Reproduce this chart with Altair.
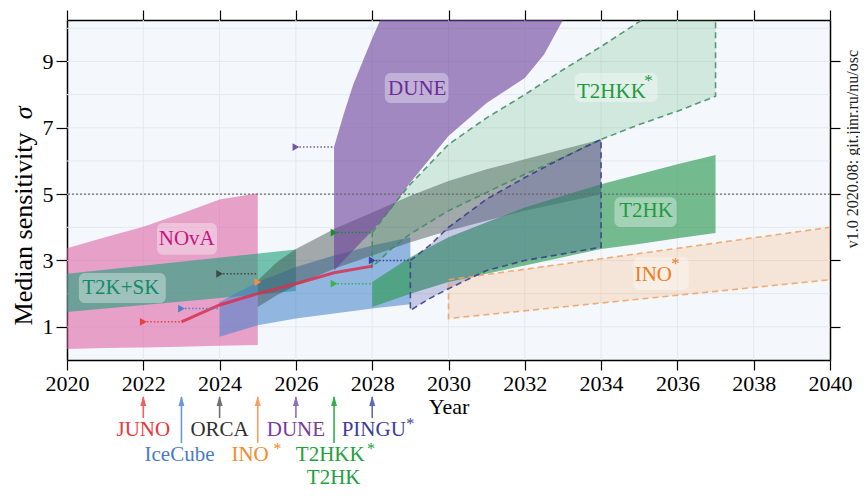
import altair as alt
import pandas as pd

FONT = "Liberation Serif"

# ---------------- data ----------------
nova_x = [2020, 2021, 2022, 2023, 2024, 2025]
nova_lo = [0.33, 0.36, 0.38, 0.40, 0.43, 0.45]
nova_hi = [3.37, 3.70, 4.02, 4.42, 4.84, 5.03]

t2ksk_x = [2020, 2026]
t2ksk_lo = [1.45, 2.08]
t2ksk_hi = [2.60, 3.33]

icecube_x = [2024, 2025, 2026, 2027, 2028, 2029]
icecube_lo = [0.70, 1.05, 1.25, 1.40, 1.55, 1.68]
icecube_hi = [1.75, 2.35, 2.80, 3.15, 3.45, 3.70]

orca_x = [2025, 2025.5, 2026, 2027, 2028, 2029, 2030, 2031, 2032, 2033, 2034]
orca_lo = [1.60, 1.95, 2.25, 2.75, 3.15, 3.55, 3.90, 4.20, 4.50, 4.75, 5.00]
orca_hi = [2.40, 2.95, 3.35, 3.95, 4.45, 4.95, 5.40, 5.75, 6.05, 6.35, 6.65]

ino_x = [2030, 2040]
ino_lo = [1.25, 2.42]
ino_hi = [2.42, 4.00]

dune_x = [2027, 2027.25, 2027.5, 2027.75, 2028, 2028.5, 2029, 2029.5, 2030, 2031, 2032, 2032.5, 2033, 2033.5]
dune_lo = [2.70, 3.00, 3.30, 3.60, 3.90, 4.55, 5.35, 6.05, 6.75, 7.75, 8.50, 9.20, 10.25, 11.0]
dune_hi = [6.42, 7.40, 8.30, 9.00, 9.70, 11.0, 11.0, 11.0, 11.0, 11.0, 11.0, 11.0, 11.0, 11.0]

t2hkk_x = [2028, 2028.5, 2029, 2029.5, 2030, 2031, 2032, 2033, 2034, 2035, 2036, 2037]
t2hkk_lo = [2.80, 3.35, 3.80, 4.15, 4.50, 5.05, 5.60, 6.10, 6.65, 7.10, 7.50, 7.95]
t2hkk_hi = [3.84, 4.60, 5.30, 5.90, 6.50, 7.30, 8.00, 8.75, 9.45, 10.20, 10.90, 11.60]

t2hk_x = [2028, 2029, 2030, 2031, 2032, 2033, 2034, 2035, 2036, 2037]
t2hk_lo = [1.60, 2.00, 2.35, 2.60, 2.85, 3.10, 3.35, 3.50, 3.67, 3.83]
t2hk_hi = [2.35, 3.10, 3.70, 4.15, 4.60, 4.95, 5.30, 5.60, 5.90, 6.18]

pingu_x = [2029, 2029.5, 2030, 2031, 2032, 2033, 2034]
pingu_lo = [1.50, 1.85, 2.15, 2.70, 3.00, 3.20, 3.40]
pingu_hi = [3.00, 3.45, 4.00, 4.85, 5.50, 6.10, 6.65]

juno_x = [2023, 2024, 2025, 2026, 2027, 2028]
juno_y = [1.15, 1.66, 2.00, 2.30, 2.63, 2.83]

exps = ["JUNO", "IceCube", "ORCA", "INO", "DUNE", "T2HKK", "T2HK", "PINGU"]
start_year = [2022, 2023, 2024, 2025, 2026, 2027, 2027, 2028]
marker_y = [1.15, 1.55, 2.60, 2.35, 6.42, 3.84, 2.30, 3.00]
dotted_end = [2023, 2024, 2025, 2025, 2027, 2028, 2028, 2029]

x_ticks = list(range(2020, 2041, 2))
y_ticks = [1, 3, 5, 7, 9]
grid_y = list(range(1, 11))
grid_x = list(range(2022, 2040, 2))
threshold = [5]

# in-plot band labels
band_text = ["NOvA", "T2K+SK", "DUNE", "T2HKK", "T2HK", "INO"]
band_text_x = [2023.14, 2021.41, 2029.18, 2034.27, 2035.18, 2035.37]
band_text_y = [3.66, 2.17, 8.18, 8.09, 4.48, 2.56]
box_x1 = [2022.36, 2020.31, 2028.33, 2033.31, 2034.35, 2034.85]
box_x2 = [2023.93, 2022.59, 2030.00, 2035.48, 2035.98, 2036.30]
box_y1 = [3.17, 1.72, 7.75, 7.78, 4.01, 2.11]
box_y2 = [4.13, 2.62, 8.65, 8.65, 4.91, 3.10]
band_ast_name = ["T2HKK", "INO"]
band_ast_x = [2035.24, 2035.95]
band_ast_y = [8.40, 2.88]

# annotation below the axis
arrow_year = [2022, 2023, 2024, 2025, 2026, 2027, 2028]
arrow_long = [False, True, False, True, False, True, False]
ann_text = ["JUNO", "ORCA", "DUNE", "PINGU", "IceCube", "INO", "T2HKK", "T2HK"]
ann_x = [2022.0, 2024.0, 2026.0, 2028.04, 2022.95, 2024.80, 2026.90, 2026.99]
ann_row = [1, 1, 1, 1, 2, 2, 2, 3]
ann_ast_name = ["PINGU", "INO", "T2HKK"]
ann_ast_x = [2029.0, 2025.52, 2027.97]
ann_ast_row = [1, 2, 2]

version_text = "v1.0 2020.08: git.jinr.ru/nu/osc"

# ---------------- styles ----------------
XS = alt.Scale(domain=[2020, 2040], nice=False, zero=False)
YS = alt.Scale(domain=[0, 10.25], nice=False, zero=False)

marker_colors = ["#e8403e", "#4f7fc4", "#3a4a46", "#f29040", "#7a55a6", "#1c8a3c", "#3cb44e", "#3b3ea0"]
arrow_colors = ["#f0605e", "#6a97d6", "#707070", "#f5a060", "#9070b8", "#2cb34a", "#6068b8"]
ann_colors = {"JUNO": "#e8383a", "ORCA": "#303030", "DUNE": "#7a3aa0", "PINGU": "#3c3ca0",
              "IceCube": "#4a7cc4", "INO": "#f58a2a", "T2HKK": "#22a03c", "T2HK": "#22a03c"}
band_text_colors = {"NOvA": "#c8147e", "T2K+SK": "#108a68", "DUNE": "#6a2c98",
                    "T2HKK": "#1e9a3c", "T2HK": "#1e9a3c", "INO": "#f07d1a"}
row_y = {1: -2.11, 2: -2.86, 3: -3.56}
row_ast_y = {1: -1.92, 2: -2.67}
ARROW_TOP = -1.115
ARROW_SHORT = -1.75
ARROW_LONG = -2.50


def X(f, **kw):
    return alt.X(f, type="quantitative", scale=XS, axis=None, **kw)


def Y(f, **kw):
    return alt.Y(f, type="quantitative", scale=YS, axis=None, **kw)


def band(xs, lo, hi, color, opacity, clip=False):
    df = pd.DataFrame({"x": xs, "lo": lo, "hi": hi})
    return alt.Chart(df).mark_area(color=color, opacity=opacity, clip=clip).encode(
        x=X("x"), y=Y("lo"), y2=alt.Y2("hi"))


def outline(xs, lo, hi, color, clip=False, opacity=0.85):
    px = list(xs) + list(xs)[::-1] + [xs[0]]
    py = list(hi) + list(lo)[::-1] + [hi[0]]
    df = pd.DataFrame({"x": px, "y": py, "i": list(range(len(px)))})
    return alt.Chart(df).mark_line(color=color, strokeDash=[6, 4], strokeWidth=1.6,
                                   opacity=opacity, clip=clip).encode(
        x=X("x"), y=Y("y"), order=alt.Order("i:Q"))


corner = pd.DataFrame({"x": [2020, 2040], "y": [0, 10]})

axes_main = alt.Chart(corner).mark_point(opacity=0).encode(
    x=alt.X("x", type="quantitative", scale=XS, axis=alt.Axis(
        values=x_ticks, format="d", orient="bottom", title="Year", labelFont=FONT, labelFontSize=22,
        labelColor="black", labelFlush=False, labelOverlap=False, labelPadding=3,
        tickSize=10, tickWidth=1.2, tickColor="black", domainColor="black", domainWidth=1.5,
        titleFont=FONT, titleFontSize=22, titleFontWeight="normal", titleColor="black",
        titlePadding=2, grid=False)),
    y=alt.Y("y", type="quantitative", scale=YS, axis=alt.Axis(
        values=y_ticks, format="d", orient="left", title=None, labelFont=FONT, labelFontSize=22,
        labelColor="black", labelFlush=False, labelOverlap=False, labelPadding=3,
        tickSize=11, tickWidth=1.2, tickColor="black", domainColor="black", domainWidth=1.5,
        grid=False)),
)
axes_other = alt.Chart(corner).mark_point(opacity=0).encode(
    x=alt.X("x", type="quantitative", scale=XS, axis=alt.Axis(
        values=x_ticks, orient="top", title=None, labels=False, tickSize=10, tickWidth=1.2,
        tickColor="black", domainColor="black", domainWidth=1.5, grid=False)),
    y=alt.Y("y", type="quantitative", scale=YS, axis=alt.Axis(
        values=y_ticks, orient="right", title=None, labels=False, tickSize=10, tickWidth=1.2,
        tickColor="black", domainColor="black", domainWidth=1.5, grid=False)),
)

grid_h = alt.Chart(pd.DataFrame({"y": grid_y})).mark_rule(color="#e3e9f0", strokeWidth=1).encode(
    y=Y("y"))
grid_v = alt.Chart(pd.DataFrame({"x": grid_x})).mark_rule(color="#e3e9f0", strokeWidth=1).encode(
    x=X("x"))

layers = [grid_h, grid_v]
layers.append(band(nova_x, nova_lo, nova_hi, "#dd5a9f", 0.55))
layers.append(band(t2ksk_x, t2ksk_lo, t2ksk_hi, "#1aa078", 0.6))
layers.append(band(icecube_x, icecube_lo, icecube_hi, "#3f7fc8", 0.55))
layers.append(band(orca_x, orca_lo, orca_hi, "#3d4a47", 0.45))
layers.append(band(ino_x, ino_lo, ino_hi, "#f59a4a", 0.2))
layers.append(band(dune_x, dune_lo, dune_hi, "#6a3d9a", 0.6, clip=True))
layers.append(band(t2hkk_x, t2hkk_lo, t2hkk_hi, "#34a05a", 0.18, clip=True))
layers.append(band(t2hk_x, t2hk_lo, t2hk_hi, "#2e9a55", 0.65))
layers.append(band(pingu_x, pingu_lo, pingu_hi, "#3a3f9c", 0.25))
layers.append(outline(ino_x, ino_lo, ino_hi, "#f0a060", clip=True))
layers.append(outline(t2hkk_x, t2hkk_lo, t2hkk_hi, "#3d8a60", clip=True))
layers.append(outline(pingu_x, pingu_lo, pingu_hi, "#353a8a"))

juno_line = alt.Chart(pd.DataFrame({"x": juno_x, "y": juno_y})).mark_line(
    color="#d8304f", strokeWidth=3, opacity=0.85).encode(x=X("x"), y=Y("y"))
layers.append(juno_line)

mk = pd.DataFrame({"exp": exps, "x": start_year, "y": marker_y, "x2": dotted_end})
color_enc = alt.Color("exp:N", scale=alt.Scale(domain=exps, range=marker_colors), legend=None)
dotted = alt.Chart(mk).mark_rule(strokeDash=[1.5, 2], strokeWidth=1.5).encode(
    x=X("x"), x2=alt.X2("x2"), y=Y("y"), color=color_enc)
markers = alt.Chart(mk).mark_point(shape="triangle-right", filled=True, size=60, opacity=1).encode(
    x=X("x"), y=Y("y"), color=color_enc)
layers += [dotted, markers]

thr = alt.Chart(pd.DataFrame({"y": threshold})).mark_rule(
    color="#6a6a6a", strokeDash=[2, 2], strokeWidth=1.2).encode(y=Y("y"))
layers.append(thr)

boxes = alt.Chart(pd.DataFrame({"x1": box_x1, "x2": box_x2, "y1": box_y1, "y2": box_y2})).mark_rect(
    color="white", opacity=0.35, cornerRadius=6).encode(
    x=X("x1"), x2=alt.X2("x2"), y=Y("y1"), y2=alt.Y2("y2"))
layers.append(boxes)

bt_color = alt.Color("t:N", scale=alt.Scale(domain=list(band_text_colors),
                                            range=list(band_text_colors.values())), legend=None)
bt = pd.DataFrame({"t": band_text, "x": band_text_x, "y": band_text_y})
layers.append(alt.Chart(bt).mark_text(font=FONT, fontSize=21, baseline="middle", align="center").encode(
    x=X("x"), y=Y("y"), text="t:N", color=bt_color))
ba = pd.DataFrame({"t": band_ast_name, "x": band_ast_x, "y": band_ast_y})
layers.append(alt.Chart(ba).mark_text(font=FONT, fontSize=17, baseline="middle", align="center", text="*").encode(
    x=X("x"), y=Y("y"), color=bt_color))

# ---- annotations below the axis ----
ar = pd.DataFrame({"x": arrow_year, "top": [ARROW_TOP] * len(arrow_year),
                   "bot": [ARROW_LONG if l else ARROW_SHORT for l in arrow_long],
                   "c": [str(v) for v in arrow_year]})
ar_color = alt.Color("c:N", scale=alt.Scale(domain=[str(v) for v in arrow_year], range=arrow_colors), legend=None)
layers.append(alt.Chart(ar).mark_rule(strokeWidth=1.6).encode(
    x=X("x"), y=Y("bot"), y2=alt.Y2("top"), color=ar_color))
layers.append(alt.Chart(ar).mark_point(shape="M0,-1L0.6,1L-0.6,1Z", filled=True, size=100, opacity=1).encode(
    x=X("x"), y=Y("top"), color=ar_color, yOffset=alt.value(4)))

ann_color = alt.Color("t:N", scale=alt.Scale(domain=list(ann_colors), range=list(ann_colors.values())), legend=None)
an = pd.DataFrame({"t": ann_text, "x": ann_x, "y": [row_y[r] for r in ann_row]})
layers.append(alt.Chart(an).mark_text(font=FONT, fontSize=21, baseline="middle", align="center").encode(
    x=X("x"), y=Y("y"), text="t:N", color=ann_color))
aa = pd.DataFrame({"t": ann_ast_name, "x": ann_ast_x, "y": [row_ast_y[r] for r in ann_ast_row]})
layers.append(alt.Chart(aa).mark_text(font=FONT, fontSize=16, baseline="middle", align="center", text="*").encode(
    x=X("x"), y=Y("y"), color=ann_color))

# y-axis title and version text
yt = pd.DataFrame({"x": [2018.86], "y": [3.95]})
layers.append(alt.Chart(yt).mark_text(font=FONT, fontSize=26, angle=270, align="center", baseline="middle",
                                      text="Median sensitivity", color="black").encode(x=X("x"), y=Y("y")))
ys = pd.DataFrame({"x": [2018.86], "y": [7.45]})
layers.append(alt.Chart(ys).mark_text(font=FONT, fontSize=26, angle=270, align="center", baseline="middle",
                                      fontStyle="italic", text="σ", color="black").encode(x=X("x"), y=Y("y")))
vt = pd.DataFrame({"x": [2040.6], "y": [6.36]})
layers.append(alt.Chart(vt).mark_text(font=FONT, fontSize=16, angle=270, align="center", baseline="middle",
                                      text=version_text, color="#222222").encode(x=X("x"), y=Y("y")))

layers += [axes_main, axes_other]

chart = alt.layer(*layers).resolve_axis(x="independent", y="independent").resolve_scale(
    color="independent").properties(
    width=763, height=340,
    padding={"left": 59, "top": 12, "right": 30, "bottom": 128},
    autosize=alt.AutoSizeParams(type="none"),
).configure_view(fill="#f4f8fc", stroke=None)

chart.save("out.html", embed_options={"renderer": "svg", "actions": False})
